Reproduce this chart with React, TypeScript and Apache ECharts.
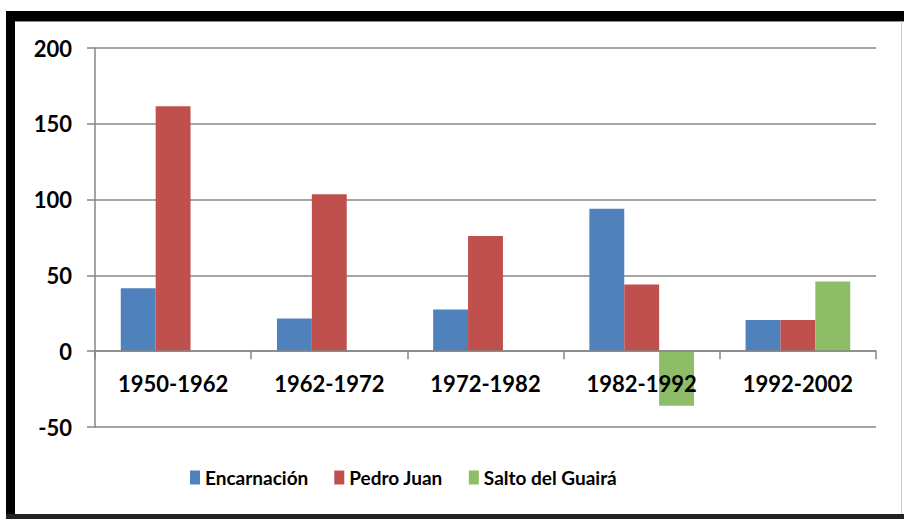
import React, { useEffect, useRef } from "react";
import * as echarts from "echarts";

const categories = ["1950-1962", "1962-1972", "1972-1982", "1982-1992", "1992-2002"];
const encarnacion = [41.5, 21.5, 27.5, 94, 20.5];
const pedroJuan = [161.5, 103.5, 76, 44, 20.5];
const saltoDelGuaira: (number | null)[] = [null, null, null, -36, 46];
const seriesNames = ["Encarnación", "Pedro Juan", "Salto del Guairá"];
const colors = ["#4F81BD", "#C0504D", "#8DBD66"];

export default function App() {
  const ref = useRef<HTMLDivElement>(null);
  useEffect(() => {
    if (!ref.current) return;
    const chart = echarts.init(ref.current, null, { renderer: "svg" });
    const font = "Lato, 'Open Sans', sans-serif";
    const axisColor = "#868686";
    chart.setOption({
      animation: false,
      backgroundColor: "#ffffff",
      grid: { left: 95, right: 28, top: 48, bottom: 92, containLabel: false },
      legend: {
        data: seriesNames,
        left: 185,
        top: 463,
        icon: "rect",
        itemWidth: 10,
        itemHeight: 14,
        itemGap: 26,
        textStyle: { fontFamily: font, fontWeight: "bold", fontSize: 19, color: "#000" },
      },
      xAxis: {
        type: "category",
        data: categories,
        z: 10,
        axisLine: { onZero: true, lineStyle: { color: axisColor, width: 1.5 } },
        axisTick: { show: true, length: 8, lineStyle: { color: axisColor, width: 1.5 } },
        axisLabel: { fontFamily: font, fontWeight: "bold", fontSize: 22, color: "#000", margin: -55 },
        splitLine: { show: false },
      },
      yAxis: {
        type: "value",
        min: -50,
        max: 200,
        interval: 50,
        axisLine: { show: true, lineStyle: { color: axisColor, width: 1.5 } },
        axisTick: { show: true, length: 8, lineStyle: { color: axisColor, width: 1.5 } },
        axisLabel: { fontFamily: font, fontWeight: "bold", fontSize: 22, color: "#000", margin: 23 },
        splitLine: { show: true, lineStyle: { color: axisColor, width: 1.5 } },
      },
      series: [
        { name: seriesNames[0], type: "bar", data: encarnacion, itemStyle: { color: colors[0] }, barGap: "0%", barCategoryGap: "33%" },
        { name: seriesNames[1], type: "bar", data: pedroJuan, itemStyle: { color: colors[1] }, barGap: "0%", barCategoryGap: "33%" },
        { name: seriesNames[2], type: "bar", data: saltoDelGuaira, itemStyle: { color: colors[2] }, barGap: "0%", barCategoryGap: "33%" },
      ],
      graphic: [
        { type: "rect", shape: { x: 6, y: 11, width: 898, height: 10 }, style: { fill: "#000" }, z: 100 },
        { type: "rect", shape: { x: 15, y: 21, width: 889, height: 1 }, style: { fill: "#8a8a8a" }, z: 100 },
        { type: "rect", shape: { x: 6, y: 11, width: 9, height: 508 }, style: { fill: "#000" }, z: 100 },
        { type: "rect", shape: { x: 6, y: 514, width: 898, height: 5 }, style: { fill: "#222" }, z: 100 },
        { type: "rect", shape: { x: 901, y: 21, width: 1, height: 493 }, style: { fill: "#c8c8c8" }, z: 100 },
      ],
    });
    return () => chart.dispose();
  }, []);
  return <div ref={ref} style={{ position: "fixed", left: 0, top: 0, width: 904, height: 519 }} />;
}
